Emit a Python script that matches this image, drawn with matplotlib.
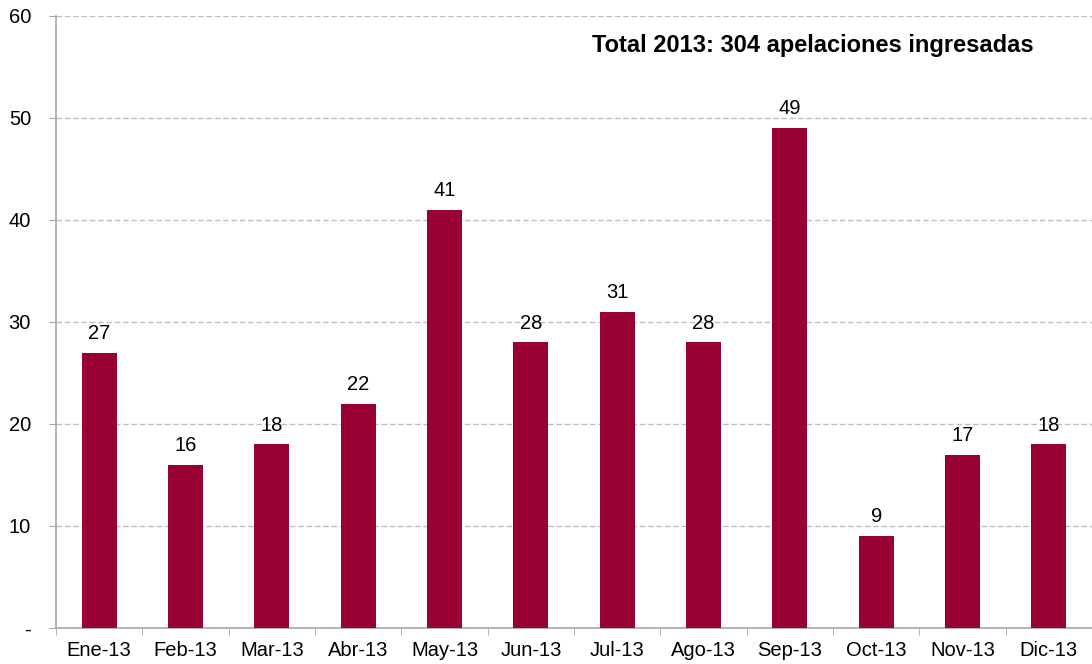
import matplotlib
matplotlib.use("Agg")
import matplotlib.pyplot as plt
import numpy as np

months = ["Ene-13", "Feb-13", "Mar-13", "Abr-13", "May-13", "Jun-13",
          "Jul-13", "Ago-13", "Sep-13", "Oct-13", "Nov-13", "Dic-13"]
values = [27, 16, 18, 22, 41, 28, 31, 28, 49, 9, 17, 18]
yticks = [0, 10, 20, 30, 40, 50, 60]
ylabels = ["-", "10", "20", "30", "40", "50", "60"]

plt.rcParams['font.family'] = ['Liberation Sans', 'DejaVu Sans']

fig = plt.figure(figsize=(10.92, 6.64), dpi=100)
ax = fig.add_axes([0.0513, 0.0542, 0.9487, 0.9218])

x = np.arange(len(months))
ax.bar(x, values, width=0.405, color="#990033", zorder=3)
for xi, v in zip(x, values):
    ax.annotate(str(v), (xi, v), xytext=(0, 7), textcoords="offset points",
                ha="center", va="bottom", fontsize=14.5)

ax.set_xlim(-0.5, len(months) - 0.5)
ax.set_ylim(0, 60)
ax.set_yticks(yticks)
ax.set_yticklabels(ylabels, fontsize=14.5)
ax.set_xticks(x)
ax.set_xticklabels(months, fontsize=14.5)
ax.set_xticks(np.arange(-0.5, len(months) + 0.5, 1), minor=True)
ax.tick_params(axis="x", which="major", length=0, pad=9)
ax.tick_params(axis="x", which="minor", length=5, color="#A6A6A6")
ax.tick_params(axis="y", length=5, color="#A6A6A6", pad=13)

ax.yaxis.grid(True, linestyle=(0, (4, 2)), color="#BFBFBF", linewidth=1, zorder=0)
for s in ["top", "right"]:
    ax.spines[s].set_visible(False)
for s in ["left", "bottom"]:
    ax.spines[s].set_color("#A6A6A6")
    ax.spines[s].set_linewidth(1.2)

ax.text(0.944, 0.951, "Total 2013: 304 apelaciones ingresadas", transform=ax.transAxes,
        ha="right", va="center", fontsize=17, fontweight="bold")

fig.savefig("out.png", dpi=100)
